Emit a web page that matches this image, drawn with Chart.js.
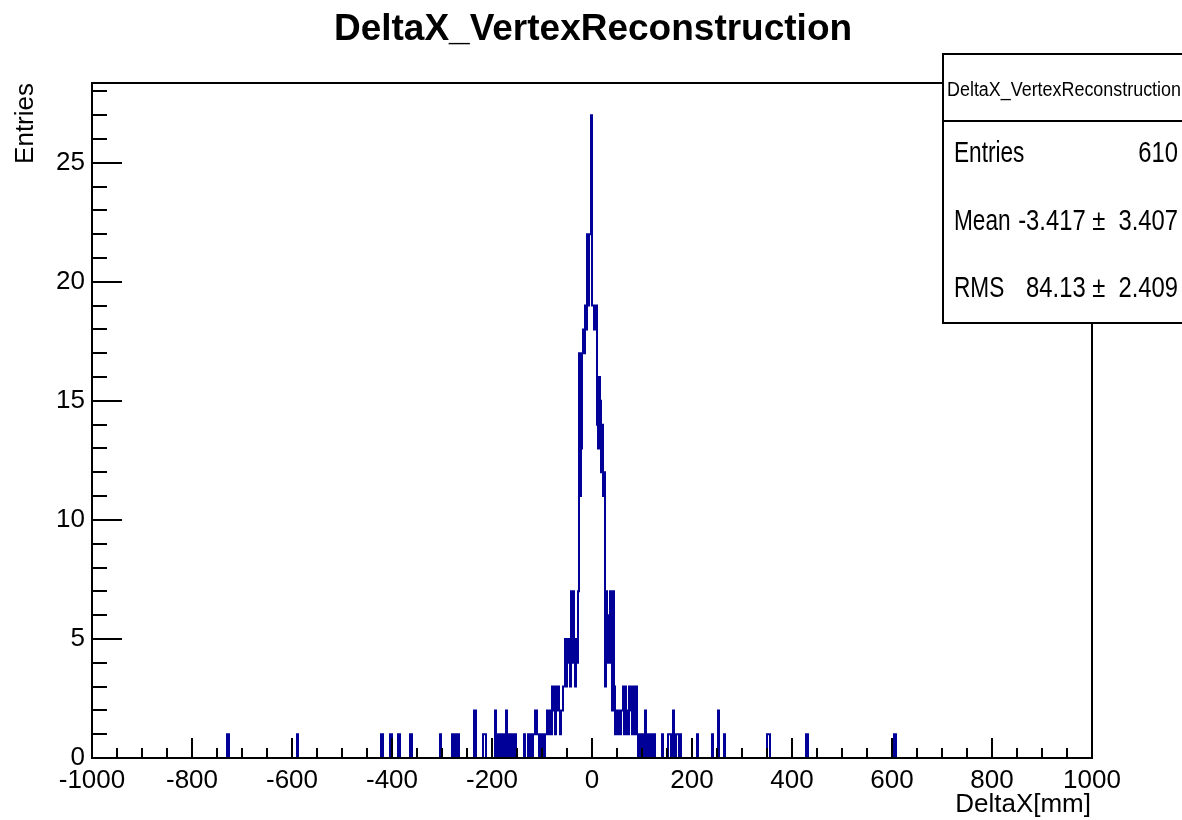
<!DOCTYPE html>
<html>
<head>
<meta charset="utf-8">
<script src="https://cdn.jsdelivr.net/npm/chart.js@4/dist/chart.umd.min.js"></script>
<style>
  html, body { margin: 0; padding: 0; background: #ffffff; }
  canvas { display: block; }
</style>
</head>
<body>
<canvas id="c" width="1182" height="820"></canvas>
<script>
// DeltaX histogram: 1000 bins of 2 mm between -1000 and 1000 mm
const xMin = -1000;
const xMax = 1000;
const binWidth = 2;
const yMax = 28.35;

const xTickLabels = [-1000, -800, -600, -400, -200, 0, 200, 400, 600, 800, 1000];
const yTickLabels = [0, 5, 10, 15, 20, 25];

// consecutive bins of the central peak, first low edge at coreStart (mm)
const coreStart = -98;
const coreCounts = [
  1, 0, 1, 1, 2, 1, 2, 2, 1, 3,
  2, 3, 1, 3, 2, 3, 2, 1, 2, 2,
  3, 3, 5, 3, 5, 4, 5, 3, 7, 4,
  7, 5, 3, 5, 4, 7, 17, 11, 13, 17,
  18, 17, 19, 18, 22, 19, 22, 22, 27, 19,
  19, 18, 19, 19, 14, 13, 16, 15, 12, 14,
  11, 12, 3, 7, 4, 6, 4, 7, 4, 2,
  7, 3, 1, 2, 1, 2, 2, 1, 2, 2,
  3, 1, 3, 2, 1, 1, 3, 2, 3, 1,
  2, 3, 1, 3, 1, 0, 1, 1, 0, 1,
  0, 1, 2, 0, 0, 1, 0, 1, 0, 0,
  1, 1
];

// isolated bins in the tails: low edge (mm) and content
const tailEdges = [
  -730, -728, -590, -422, -420, -404, -402, -388, -386,
  -364, -362, -304, -280, -276, -272, -268, -236, -234, -218,
  -216, -214, -194, -190, -186, -182, -178, -176, -172, -170,
  -166, -162, -158, -154, -136, -128, -126, -122, -118, -116,
  -114, -112, -110, -108, -104, -100,
  140, 152, 154, 156, 162, 168, 170, 172, 176, 210,
  240, 252, 264, 350, 352, 354, 428, 430, 604, 606
];
const tailCounts = [
  1, 1, 1, 1, 1, 1, 1, 1, 1,
  1, 1, 1, 1, 1, 1, 1, 2, 2, 1,
  1, 1, 2, 1, 1, 1, 1, 1, 2, 1,
  1, 1, 1, 1, 1, 1, 1, 1, 1, 1,
  2, 2, 1, 1, 1, 1,
  1, 1, 1, 1, 2, 1, 1, 1, 1, 1,
  1, 2, 1, 1, 1, 1, 1, 1, 1, 1
];

const histTitle = 'DeltaX_VertexReconstruction';
const xTitle = 'DeltaX[mm]';
const yTitle = 'Entries';
const statNames = ['Entries', 'Mean', 'RMS'];
const statValues = ['610', '-3.417 \u00b1  3.407', '84.13 \u00b1  2.409'];

// ---- fill the bin array ----
const nBins = Math.round((xMax - xMin) / binWidth);
const counts = new Array(nBins).fill(0);
const binIndex = edge => Math.round((edge - xMin) / binWidth);
coreCounts.forEach((c, i) => { counts[binIndex(coreStart + i * binWidth)] += c; });
tailEdges.forEach((e, i) => { counts[binIndex(e)] += tailCounts[i]; });

// outline points: value of each bin held from its low edge to the next edge
const outline = counts.map((c, i) => ({ x: xMin + i * binWidth, y: c }));
outline.push({ x: xMax, y: 0 });

const FONT = '"Liberation Sans", Arial, Helvetica, sans-serif';
const INK = '#000000';
const LINE_BLUE = '#000099';

// draw text squeezed or stretched horizontally
function scaledText(ctx, str, x, y, sx, align) {
  ctx.save();
  ctx.translate(x, y);
  ctx.scale(sx, 1);
  ctx.textAlign = align;
  ctx.fillText(str, 0, 0);
  ctx.restore();
}

const frameAndDecor = {
  id: 'frameAndDecor',
  afterDraw(chart) {
    const ctx = chart.ctx;
    const a = chart.chartArea;
    const xs = chart.scales.x, ys = chart.scales.y;
    ctx.save();

    // tick marks pointing into the frame
    ctx.strokeStyle = INK;
    ctx.lineWidth = 2;
    ctx.beginPath();
    for (let v = xMin; v <= xMax; v += 50) {
      const px = Math.round(xs.getPixelForValue(v));
      const len = (v % 200 === 0) ? 20 : 10;
      ctx.moveTo(px, a.bottom);
      ctx.lineTo(px, a.bottom - len);
    }
    for (let v = 0; v <= Math.floor(yMax); v += 1) {
      const py = Math.round(ys.getPixelForValue(v));
      const len = (v % 5 === 0) ? 30 : 15;
      ctx.moveTo(a.left, py);
      ctx.lineTo(a.left + len, py);
    }
    ctx.stroke();

    // frame
    ctx.lineWidth = 2;
    ctx.strokeRect(a.left, a.top, a.right - a.left, a.bottom - a.top);

    // histogram title
    ctx.fillStyle = INK;
    ctx.font = 'bold 37px ' + FONT;
    ctx.textBaseline = 'alphabetic';
    scaledText(ctx, histTitle, 593, 40, 1.0, 'center');

    // axis titles
    ctx.font = '26px ' + FONT;
    scaledText(ctx, xTitle, 1091, 812, 1.0, 'right');
    ctx.save();
    ctx.translate(33, a.top);
    ctx.rotate(-Math.PI / 2);
    ctx.textAlign = 'right';
    ctx.fillText(yTitle, 0, 0);
    ctx.restore();

    // statistics box
    const bx = 943, by = 54, bw = 260, bh = 269, hy = 121;
    ctx.fillStyle = '#ffffff';
    ctx.fillRect(bx, by, bw, bh);
    ctx.strokeStyle = INK;
    ctx.lineWidth = 2;
    ctx.strokeRect(bx, by, bw, bh);
    ctx.beginPath();
    ctx.moveTo(bx, hy);
    ctx.lineTo(bx + bw, hy);
    ctx.stroke();

    ctx.fillStyle = INK;
    ctx.font = '20px ' + FONT;
    ctx.save();
    ctx.translate(947, 96);
    ctx.textAlign = 'left';
    ctx.fillText(histTitle, 0, 0, 234);
    ctx.restore();

    ctx.font = '29px ' + FONT;
    const rows = [162, 230, 297];
    statNames.forEach((name, i) => {
      scaledText(ctx, name, 954, rows[i], 0.78, 'left');
      scaledText(ctx, statValues[i], 1178, rows[i], 0.82, 'right');
    });

    ctx.restore();
  }
};

new Chart(document.getElementById('c'), {
  type: 'line',
  data: {
    datasets: [{
      data: outline,
      borderColor: LINE_BLUE,
      borderWidth: 2,
      stepped: 'before',
      pointRadius: 0,
      fill: false,
      tension: 0
    }]
  },
  options: {
    responsive: false,
    animation: false,
    events: [],
    layout: { padding: { top: 83, right: 90, left: 0, bottom: 0 } },
    plugins: { legend: { display: false }, tooltip: { enabled: false } },
    scales: {
      x: {
        type: 'linear',
        min: xMin,
        max: xMax,
        z: 1,
        grid: { display: false, drawTicks: false },
        border: { display: false },
        afterBuildTicks: s => { s.ticks = xTickLabels.map(v => ({ value: v })); },
        afterFit: s => { s.height = 62; },
        ticks: {
          maxRotation: 0,
          autoSkip: false,
          padding: 7,
          color: INK,
          font: { family: FONT, size: 26 },
          callback: v => String(v)
        }
      },
      y: {
        type: 'linear',
        min: 0,
        max: yMax,
        z: 1,
        grid: { display: false, drawTicks: false },
        border: { display: false },
        afterBuildTicks: s => { s.ticks = yTickLabels.map(v => ({ value: v })); },
        afterFit: s => { s.width = 92; },
        ticks: {
          padding: 7,
          color: INK,
          font: { family: FONT, size: 26 },
          callback: v => String(v)
        }
      }
    }
  },
  plugins: [frameAndDecor]
});
</script>
</body>
</html>
